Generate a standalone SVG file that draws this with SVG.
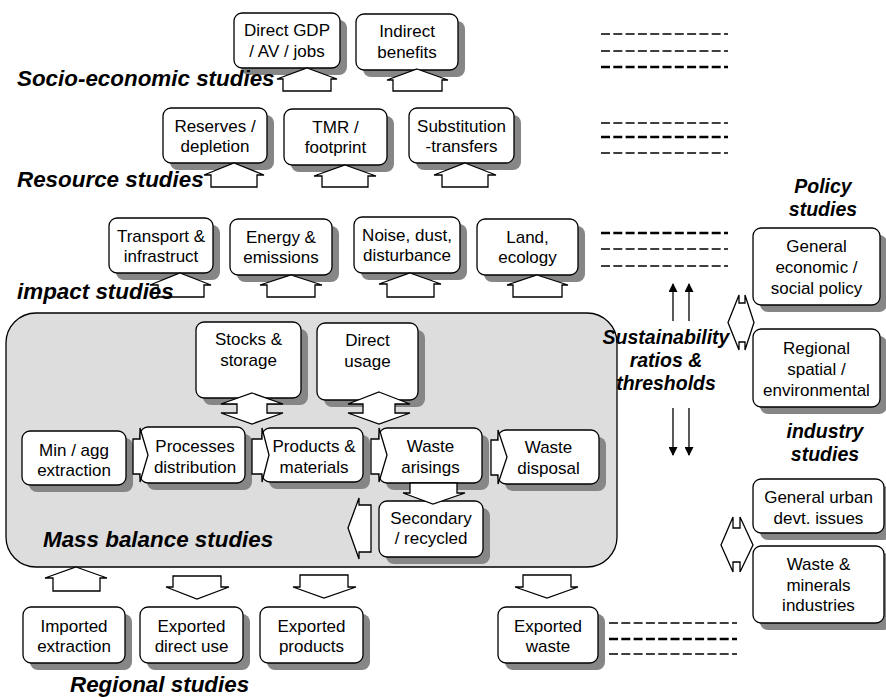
<svg xmlns="http://www.w3.org/2000/svg" width="886" height="697" viewBox="0 0 886 697">
<style>
.sh{fill:#868686;stroke:none}
.bx{fill:#fff;stroke:#000;stroke-width:1.3}
.t{font-family:"Liberation Sans",Arial,sans-serif;font-size:17px;text-anchor:middle;fill:#000}
.lbl{font-family:"Liberation Sans",Arial,sans-serif;font-size:22.4px;font-weight:bold;font-style:italic;fill:#000}
.lbl2{font-family:"Liberation Sans",Arial,sans-serif;font-size:19.5px;font-weight:bold;font-style:italic;fill:#000;text-anchor:middle}
.ba{fill:#fff;stroke:#000;stroke-width:1.3;stroke-linejoin:miter}
.dl{stroke:#000;stroke-width:1.6;stroke-dasharray:9 3.3;fill:none}
.dk{stroke:#000;stroke-width:2.6;stroke-dasharray:9 3.3;fill:none}
.ln{stroke:#000;stroke-width:1.3;fill:none}
</style>
<defs>
<marker id="ah" viewBox="0 0 10 10" refX="9" refY="5" markerWidth="11" markerHeight="9" markerUnits="userSpaceOnUse" orient="auto">
<path d="M0,0 L10,5 L0,10 Z" fill="#000"/>
</marker>
</defs>
<rect width="886" height="697" fill="#fff"/>

<g id="mass-balance-area">
<rect x="6" y="313" width="611" height="254" rx="30" ry="30" fill="#dddddd" stroke="#000" stroke-width="1.3"/>
</g>

<g id="direct-gdp"><rect class="sh" x="241" y="20" width="106" height="55" rx="8"/><rect class="bx" x="234" y="13" width="106" height="55" rx="8"/><text class="t" x="287" y="36">Direct GDP</text><text class="t" x="287" y="57">/ AV / jobs</text></g>
<g id="indirect-benefits"><rect class="sh" x="363" y="21" width="102" height="56" rx="8"/><rect class="bx" x="356" y="14" width="102" height="56" rx="8"/><text class="t" x="407" y="37">Indirect</text><text class="t" x="407" y="58">benefits</text></g>

<g id="reserves"><rect class="sh" x="170" y="115" width="104" height="55" rx="8"/><rect class="bx" x="163" y="108" width="104" height="55" rx="8"/><text class="t" x="215" y="131.5">Reserves /</text><text class="t" x="215" y="152">depletion</text></g>
<g id="tmr"><rect class="sh" x="291" y="116" width="103" height="56" rx="8"/><rect class="bx" x="284" y="109" width="103" height="56" rx="8"/><text class="t" x="335.5" y="132.5">TMR /</text><text class="t" x="335.5" y="153">footprint</text></g>
<g id="substitution"><rect class="sh" x="416" y="115" width="105" height="55" rx="8"/><rect class="bx" x="409" y="108" width="105" height="55" rx="8"/><text class="t" x="461.5" y="131.5">Substitution</text><text class="t" x="461.5" y="152">-transfers</text></g>

<g id="transport"><rect class="sh" x="116" y="225" width="104" height="55" rx="8"/><rect class="bx" x="109" y="218" width="104" height="55" rx="8"/><text class="t" x="161" y="241.5">Transport &amp;</text><text class="t" x="161" y="262">infrastruct</text></g>
<g id="energy"><rect class="sh" x="237" y="226" width="102" height="56" rx="8"/><rect class="bx" x="230" y="219" width="102" height="56" rx="8"/><text class="t" x="281" y="242.5">Energy &amp;</text><text class="t" x="281" y="263">emissions</text></g>
<g id="noise"><rect class="sh" x="361" y="224" width="106" height="56" rx="8"/><rect class="bx" x="354" y="217" width="106" height="56" rx="8"/><text class="t" x="407" y="240.5">Noise, dust,</text><text class="t" x="407" y="261">disturbance</text></g>
<g id="land"><rect class="sh" x="484" y="226" width="101" height="56" rx="8"/><rect class="bx" x="477" y="219" width="101" height="56" rx="8"/><text class="t" x="527.5" y="242.5">Land,</text><text class="t" x="527.5" y="263">ecology</text></g>

<g id="stocks"><rect class="sh" x="203" y="329" width="105" height="76" rx="8"/><rect class="bx" x="196" y="322" width="105" height="76" rx="8"/><text class="t" x="248.5" y="345">Stocks &amp;</text><text class="t" x="248.5" y="365.5">storage</text></g>
<g id="direct-usage"><rect class="sh" x="324" y="330" width="101" height="77" rx="8"/><rect class="bx" x="317" y="323" width="101" height="77" rx="8"/><text class="t" x="367.5" y="346">Direct</text><text class="t" x="367.5" y="366.5">usage</text></g>

<g id="min-agg"><rect class="sh" x="29" y="438" width="104" height="54" rx="8"/><rect class="bx" x="22" y="431" width="104" height="54" rx="8"/><text class="t" x="74" y="455.5">Min / agg</text><text class="t" x="74" y="476">extraction</text></g>
<g id="processes"><rect class="sh" x="147" y="434" width="105" height="56" rx="8"/><rect class="bx" x="140" y="427" width="105" height="56" rx="8"/><text class="t" x="195" y="452">Processes</text><text class="t" x="195" y="472.5">distribution</text></g>
<g id="products"><rect class="sh" x="269" y="435" width="101" height="54" rx="8"/><rect class="bx" x="262" y="428" width="101" height="54" rx="8"/><text class="t" x="314" y="452">Products &amp;</text><text class="t" x="314" y="472.5">materials</text></g>
<g id="waste-arisings"><rect class="sh" x="386" y="435" width="103" height="55" rx="8"/><rect class="bx" x="379" y="428" width="103" height="55" rx="8"/><text class="t" x="430.5" y="452">Waste</text><text class="t" x="430.5" y="472.5">arisings</text></g>
<g id="waste-disposal"><rect class="sh" x="505" y="437" width="101" height="54" rx="8"/><rect class="bx" x="498" y="430" width="101" height="54" rx="8"/><text class="t" x="548.5" y="453">Waste</text><text class="t" x="548.5" y="473.5">disposal</text></g>
<g id="secondary"><rect class="sh" x="386" y="508" width="104" height="56" rx="8"/><rect class="bx" x="379" y="501" width="104" height="56" rx="8"/><text class="t" x="431" y="523.5">Secondary</text><text class="t" x="431" y="544">/ recycled</text></g>

<g id="imported-extraction"><rect class="sh" x="30" y="614" width="102" height="56" rx="8"/><rect class="bx" x="23" y="607" width="102" height="56" rx="8"/><text class="t" x="74" y="631.5">Imported</text><text class="t" x="74" y="652">extraction</text></g>
<g id="exported-direct-use"><rect class="sh" x="147" y="614" width="103" height="56" rx="8"/><rect class="bx" x="140" y="607" width="103" height="56" rx="8"/><text class="t" x="191.5" y="631.5">Exported</text><text class="t" x="191.5" y="652">direct use</text></g>
<g id="exported-products"><rect class="sh" x="267" y="614" width="103" height="56" rx="8"/><rect class="bx" x="260" y="607" width="103" height="56" rx="8"/><text class="t" x="311.5" y="631.5">Exported</text><text class="t" x="311.5" y="652">products</text></g>
<g id="exported-waste"><rect class="sh" x="505" y="614" width="100" height="56" rx="8"/><rect class="bx" x="498" y="607" width="100" height="56" rx="8"/><text class="t" x="548" y="631.5">Exported</text><text class="t" x="548" y="652">waste</text></g>

<g id="general-economic"><rect class="sh" x="760" y="235" width="127" height="77" rx="8"/><rect class="bx" x="753" y="228" width="127" height="77" rx="8"/><text class="t" x="816.5" y="252">General</text><text class="t" x="816.5" y="273">economic /</text><text class="t" x="816.5" y="294">social policy</text></g>
<g id="regional-spatial"><rect class="sh" x="760" y="336" width="127" height="78" rx="8"/><rect class="bx" x="753" y="329" width="127" height="78" rx="8"/><text class="t" x="816.5" y="354">Regional</text><text class="t" x="816.5" y="375">spatial /</text><text class="t" x="816.5" y="396">environmental</text></g>
<g id="general-urban"><rect class="sh" x="760" y="486" width="131" height="54" rx="8"/><rect class="bx" x="753" y="479" width="131" height="54" rx="8"/><text class="t" x="818.5" y="503">General urban</text><text class="t" x="818.5" y="523.5">devt. issues</text></g>
<g id="waste-minerals"><rect class="sh" x="760" y="553" width="131" height="77" rx="8"/><rect class="bx" x="753" y="546" width="131" height="77" rx="8"/><text class="t" x="818.5" y="570">Waste &amp;</text><text class="t" x="818.5" y="590.5">minerals</text><text class="t" x="818.5" y="611">industries</text></g>

<g id="connectors">
<polygon class="ba" points="307,68 337,79 331,79 331,91 283,91 283,79 277,79"/>
<polygon class="ba" points="417,69 448,80 442,80 442,91 393,91 393,80 387,80"/>
<polygon class="ba" points="234,163 264,175 257,175 257,187 211,187 211,175 204,175"/>
<polygon class="ba" points="345,165 376,176 368,176 368,187 322,187 322,176 314,176"/>
<polygon class="ba" points="465,163 496,175 488,175 488,187 442,187 442,175 434,175"/>
<polygon class="ba" points="180,273 211,285 204,285 204,297 158,297 158,285 150,285"/>
<polygon class="ba" points="291,275 322,285 315,285 315,297 267,297 267,285 260,285"/>
<polygon class="ba" points="410,273 441,284 434,284 434,297 387,297 387,284 379,284"/>
<polygon class="ba" points="537,275 568,285 562,285 562,297 513,297 513,285 507,285"/>
<polygon class="ba" points="252,393 283,404 267,404 267,413 283,413 252,424 221,413 237,413 237,404 221,404"/>
<polygon class="ba" points="379,392 410,404 395,404 395,413 410,413 379,424 348,413 363,413 363,404 348,404"/>
<polygon class="ba" points="133,439 140,439 140,428 148,455 140,482 140,474 133,474"/>
<polygon class="ba" points="252,439 262,439 262,428 269,455 262,482 262,474 252,474"/>
<polygon class="ba" points="371,439 379,439 379,428 387,455 379,482 379,474 371,474"/>
<polygon class="ba" points="491,440 498,440 498,430 507,457 498,484 498,475 491,475"/>
<polygon class="ba" points="410,483 457,483 457,493 465,493 433,504 403,493 410,493"/>
<polygon class="ba" points="348,528 359,498 359,505 371,505 371,552 359,552 359,559"/>
<polygon class="ba" points="76,567 107,578 100,578 100,591 53,591 53,578 45,578"/>
<polygon class="ba" points="173,576 221,576 221,587 229,587 197,599 166,587 173,587"/>
<polygon class="ba" points="300,575 348,575 348,587 356,587 324,598 293,587 300,587"/>
<polygon class="ba" points="523,575 571,575 571,587 578,587 547,598 515,587 523,587"/>
<polygon class="ba" points="728,322.5 739,295 739,303 745,303 745,295 754,322.5 745,350 745,342 739,342 739,350"/>
<polygon class="ba" points="721,545 733,517 733,528 740,528 740,517 753,545 740,572 740,562 733,562 733,572"/>
<line class="ln" x1="673" y1="321" x2="673" y2="284" marker-end="url(#ah)"/>
<line class="ln" x1="689" y1="321" x2="689" y2="284" marker-end="url(#ah)"/>
<line class="ln" x1="673" y1="408" x2="673" y2="455" marker-end="url(#ah)"/>
<line class="ln" x1="689" y1="408" x2="689" y2="455" marker-end="url(#ah)"/>
<line class="dl" x1="601" y1="34" x2="728" y2="34"/>
<line class="dl" x1="601" y1="51" x2="728" y2="51"/>
<line class="dk" x1="601" y1="67" x2="728" y2="67"/>
<line class="dl" x1="601" y1="123" x2="728" y2="123"/>
<line class="dk" x1="601" y1="137" x2="728" y2="137"/>
<line class="dl" x1="601" y1="153" x2="728" y2="153"/>
<line class="dk" x1="601" y1="233" x2="728" y2="233"/>
<line class="dl" x1="601" y1="249" x2="728" y2="249"/>
<line class="dl" x1="601" y1="266" x2="728" y2="266"/>
<line class="dl" x1="609" y1="623" x2="737" y2="623"/>
<line class="dk" x1="609" y1="639" x2="737" y2="639"/>
<line class="dl" x1="609" y1="654" x2="737" y2="654"/>
</g>

<g id="labels">
<text class="lbl" x="17" y="86">Socio-economic studies</text>
<text class="lbl" x="17" y="187">Resource studies</text>
<text class="lbl" x="17" y="299">impact studies</text>
<text class="lbl" x="43" y="547">Mass balance studies</text>
<text class="lbl" x="70" y="692">Regional studies</text>
<text class="lbl2" x="823" y="193">Policy</text>
<text class="lbl2" x="823" y="216">studies</text>
<text class="lbl2" x="825" y="438">industry</text>
<text class="lbl2" x="825" y="461">studies</text>
</g>

<g id="sustainability">
<text class="lbl2" x="666" y="344">Sustainability</text>
<text class="lbl2" x="666" y="367">ratios &amp;</text>
<text class="lbl2" x="666" y="390">thresholds</text>
</g>
</svg>
